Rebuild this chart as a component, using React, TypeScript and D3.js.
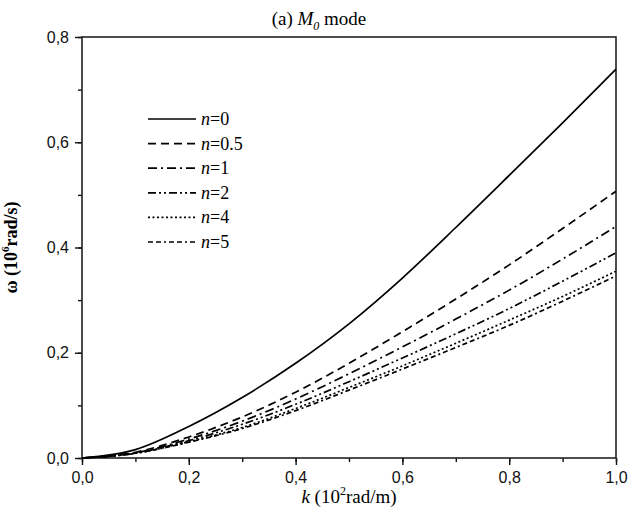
import React, { useEffect, useRef } from "react";
import * as d3 from "d3";

// k in 10^2 rad/m
const kValues = [0, 0.1, 0.2, 0.3, 0.4, 0.5, 0.6, 0.7, 0.8, 0.9, 1.0];
// omega in 10^6 rad/s, one list per n
const omegaN0 = [0, 0.016, 0.06, 0.115, 0.18, 0.255, 0.342, 0.438, 0.537, 0.637, 0.739];
const omegaN05 = [0, 0.011, 0.04, 0.078, 0.125, 0.18, 0.24, 0.302, 0.367, 0.436, 0.507];
const omegaN1 = [0, 0.01, 0.036, 0.07, 0.112, 0.16, 0.211, 0.264, 0.319, 0.378, 0.44];
const omegaN2 = [0, 0.009, 0.033, 0.064, 0.102, 0.145, 0.19, 0.236, 0.284, 0.336, 0.39];
const omegaN4 = [0, 0.009, 0.031, 0.058, 0.094, 0.134, 0.175, 0.218, 0.262, 0.307, 0.355];
const omegaN5 = [0, 0.009, 0.03, 0.056, 0.09, 0.129, 0.169, 0.21, 0.252, 0.298, 0.346];

const seriesNames = ["0", "0.5", "1", "2", "4", "5"];
const seriesValues = [omegaN0, omegaN05, omegaN1, omegaN2, omegaN4, omegaN5];
const dashes = ["none", "8,5", "9,4,2,4", "8,3,2,3,2,3", "2,2.5", "5,3,5,3,2,3"];

const xTicks = [0, 0.2, 0.4, 0.6, 0.8, 1.0];
const yTicks = [0, 0.2, 0.4, 0.6, 0.8];

const serif = "'Liberation Serif', 'Times New Roman', serif";

export default function App() {
  const ref = useRef<SVGSVGElement>(null);

  useEffect(() => {
    const svg = d3.select(ref.current);
    svg.selectAll("*").remove();

    const left = 82, right = 616, top = 37, bottom = 458;
    const x = d3.scaleLinear().domain([0, 1]).range([left, right]);
    const y = d3.scaleLinear().domain([0, 0.8]).range([bottom, top]);

    const fmt = (d: number) => d.toFixed(1).replace(".", ",");

    // minor ticks
    const xAxisMinor = d3.axisBottom(x).tickValues(d3.range(0, 1.01, 0.1)).tickSize(4).tickFormat(() => "");
    const yAxisMinor = d3.axisLeft(y).tickValues(d3.range(0, 0.81, 0.1)).tickSize(4).tickFormat(() => "");
    svg.append("g").attr("transform", `translate(0,${bottom})`).call(xAxisMinor);
    svg.append("g").attr("transform", `translate(${left},0)`).call(yAxisMinor);

    const xAxis = d3.axisBottom(x).tickValues(xTicks).tickSize(7).tickPadding(7).tickFormat((d: any) => fmt(d));
    const yAxis = d3.axisLeft(y).tickValues(yTicks).tickSize(7).tickPadding(6).tickFormat((d: any) => fmt(d));
    const gx = svg.append("g").attr("transform", `translate(0,${bottom})`).call(xAxis);
    const gy = svg.append("g").attr("transform", `translate(${left},0)`).call(yAxis);

    svg.selectAll(".domain").remove();
    svg.selectAll(".tick line").attr("stroke", "#111").attr("stroke-width", 1.4);
    [gx, gy].forEach((g) => {
      g.attr("font-family", "'Liberation Sans', Arial, sans-serif").attr("font-size", 16);
      g.selectAll("text").attr("fill", "#111");
    });

    // frame
    svg.append("rect")
      .attr("x", left).attr("y", top)
      .attr("width", right - left).attr("height", bottom - top)
      .attr("fill", "none").attr("stroke", "#222").attr("stroke-width", 1.6);

    const line = d3.line<number>()
      .x((d, i) => x(kValues[i]))
      .y((d) => y(d))
      .curve(d3.curveMonotoneX);

    seriesValues.forEach((vals, i) => {
      svg.append("path")
        .attr("d", line(vals))
        .attr("fill", "none")
        .attr("stroke", "#000")
        .attr("stroke-width", 1.7)
        .attr("stroke-dasharray", dashes[i]);
    });

    // legend
    const legY = 119, legStep = 24.6;
    seriesNames.forEach((name, i) => {
      const yy = legY + i * legStep;
      svg.append("line")
        .attr("x1", 148).attr("x2", 196)
        .attr("y1", yy).attr("y2", yy)
        .attr("stroke", "#000").attr("stroke-width", 1.7)
        .attr("stroke-dasharray", dashes[i]);
      const t = svg.append("text")
        .attr("x", 201).attr("y", yy + 6)
        .attr("font-family", serif)
        .attr("font-size", 18);
      t.append("tspan").attr("font-style", "italic").text("n");
      t.append("tspan").text("=" + name);
    });

    // title
    const title = svg.append("text")
      .attr("x", 319).attr("y", 25)
      .attr("text-anchor", "middle")
      .attr("font-family", serif)
      .attr("font-size", 19);
    title.append("tspan").text("(a) ");
    title.append("tspan").attr("font-style", "italic").text("M");
    title.append("tspan").attr("font-style", "italic").attr("font-size", 12).attr("dy", 5).text("0");
    title.append("tspan").attr("dy", -5).text(" mode");

    // x label
    const xl = svg.append("text")
      .attr("x", (left + right) / 2).attr("y", 503)
      .attr("text-anchor", "middle")
      .attr("font-family", serif)
      .attr("font-size", 19);
    xl.append("tspan").attr("font-style", "italic").text("k");
    xl.append("tspan").text(" (10");
    xl.append("tspan").attr("font-size", 12).attr("dy", -8).text("2");
    xl.append("tspan").attr("dy", 8).text("rad/m)");

    // y label
    const yl = svg.append("text")
      .attr("transform", `translate(17,${(top + bottom) / 2}) rotate(-90)`)
      .attr("text-anchor", "middle")
      .attr("font-family", serif)
      .attr("font-size", 18)
      .attr("font-weight", "bold");
    yl.append("tspan").text("ω (10");
    yl.append("tspan").attr("font-size", 11).attr("dy", -8).text("6");
    yl.append("tspan").attr("dy", 8).text("rad/s)");
  }, []);

  return (
    <svg
      ref={ref}
      width={629}
      height={523}
      style={{ position: "absolute", left: 0, top: 0, background: "#fff" }}
    />
  );
}
